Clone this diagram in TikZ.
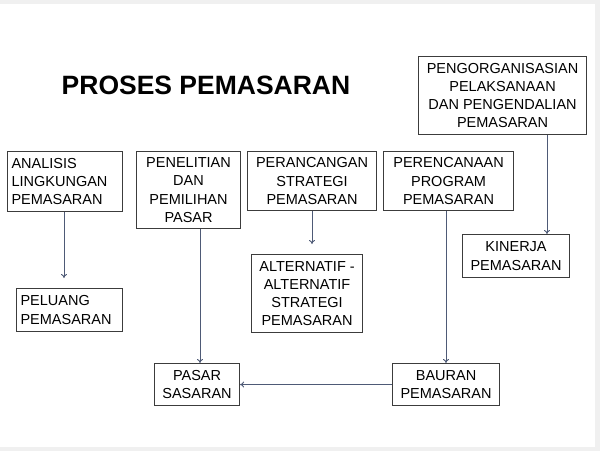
\documentclass[tikz,border=0pt]{standalone}
\usepackage{fontspec}
\setmainfont{Liberation Sans}
\usetikzlibrary{arrows.meta}
\definecolor{arrowc}{HTML}{4E5A76}
\definecolor{boxc}{HTML}{3C3C3C}
\tikzset{
  bx/.style={draw=boxc, line width=1.1pt, inner sep=0pt, align=center,
    font=\fontsize{14.5}{18.3}\selectfont, anchor=north west},
  bxl/.style={bx, align=left},
  arr/.style={draw=arrowc, line width=0.9pt, -{To[length=4pt,width=6pt]}}
}
\begin{document}
\begin{tikzpicture}[x=1pt,y=-1pt]
\useasboundingbox (0,0) rectangle (600,451);
\fill[gray!12] (0,0) rectangle (600,451);
\fill[white] (0,4) rectangle (595,447);
\node[font=\fontsize{26.5}{30}\bfseries\selectfont, anchor=center] (title) at (206,85) {PROSES PEMASARAN};
\node[bxl, minimum width=115pt, minimum height=60pt, text width=107pt] (ana) at (7,151) {ANALISIS\\LINGKUNGAN\\PEMASARAN};
\node[bx, minimum width=104pt, minimum height=77pt] (pen) at (136,151) {PENELITIAN\\DAN\\PEMILIHAN\\PASAR};
\node[bx, minimum width=129pt, minimum height=59pt] (per) at (247,151) {PERANCANGAN\\STRATEGI\\PEMASARAN};
\node[bx, minimum width=130pt, minimum height=59pt] (pre) at (383,151) {PERENCANAAN\\PROGRAM\\PEMASARAN};
\node[bx, minimum width=168pt, minimum height=78pt] (org) at (418,56) {PENGORGANISASIAN\\PELAKSANAAN\\DAN PENGENDALIAN\\PEMASARAN};
\node[bx, minimum width=107pt, minimum height=43pt] (kin) at (462,234) {KINERJA\\PEMASARAN};
\node[bxl, minimum width=106pt, minimum height=43pt, text width=98pt] (pel) at (16,288) {PELUANG\\PEMASARAN};
\node[bx, minimum width=111pt, minimum height=78pt] (alt) at (251,254) {ALTERNATIF -\\ALTERNATIF\\STRATEGI\\PEMASARAN};
\node[bx, minimum width=85pt, minimum height=42pt] (pas) at (154,363) {PASAR\\SASARAN};
\node[bx, minimum width=107pt, minimum height=42pt] (bau) at (392,363) {BAURAN\\PEMASARAN};
\draw[arr, shorten >=10pt] (ana.south -| 64,0) -- (pel.north -| 64,0);
\draw[arr] (pen.south -| 200,0) -- (pas.north -| 200,0);
\draw[arr, shorten >=10pt] (per.south -| 312,0) -- (alt.north -| 312,0);
\draw[arr] (pre.south -| 446,0) -- (bau.north -| 446,0);
\draw[arr] (org.south -| 547,0) -- (kin.north -| 547,0);
\draw[arr] (bau.west) -- (pas.east);
\end{tikzpicture}
\end{document}
